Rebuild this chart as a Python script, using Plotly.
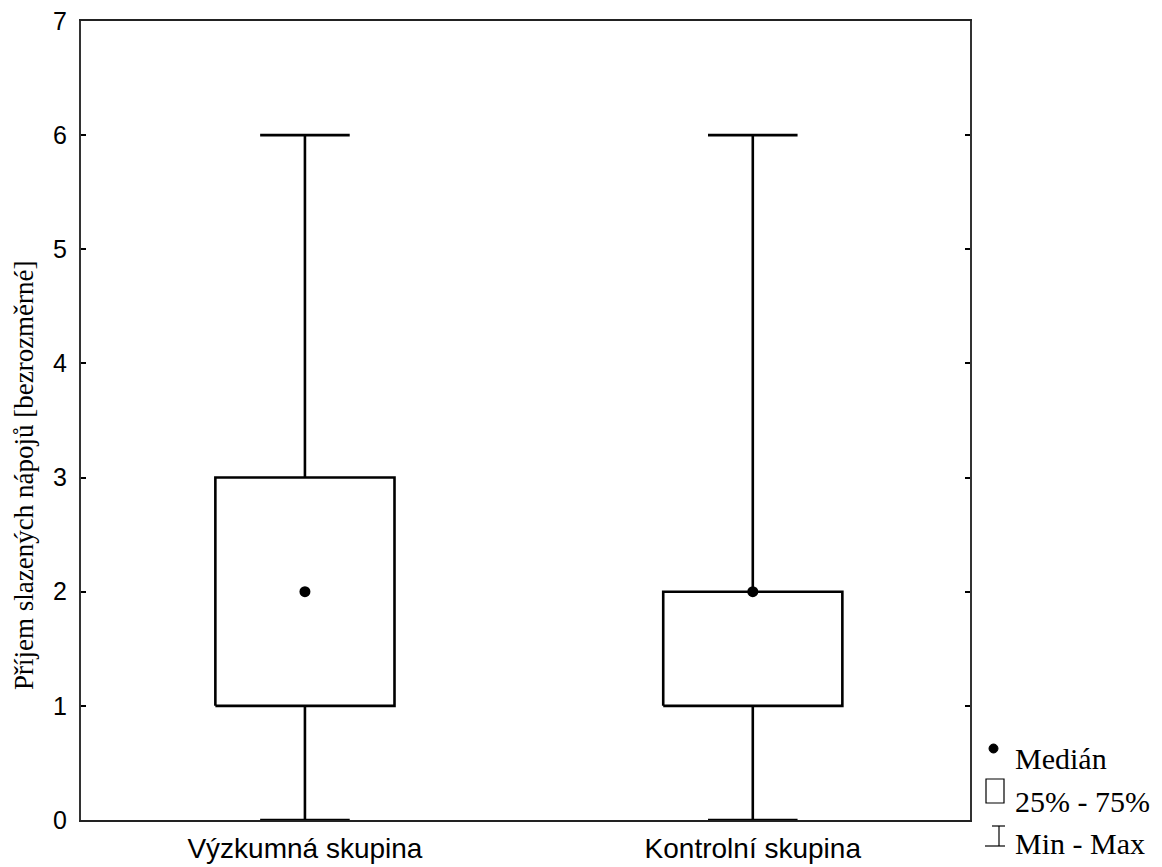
import plotly.graph_objects as go

categories = ["Výzkumná skupina", "Kontrolní skupina"]
minimum = [0, 0]
q1 = [1, 1]
median = [2, 2]
q3 = [3, 2]
maximum = [6, 6]
y_ticks = [0, 1, 2, 3, 4, 5, 6, 7]
legend_labels = ["Medián", "25% - 75%", "Min - Max"]
y_title = "Příjem slazených nápojů [bezrozměrné]"

BOX_HW = 0.2
CAP_HW = 0.1
LW = 2.6

fig = go.Figure()
for i, name in enumerate(categories):
    fig.add_trace(go.Scatter(
        x=[i - BOX_HW, i + BOX_HW, i + BOX_HW, i - BOX_HW, i - BOX_HW],
        y=[q1[i], q1[i], q3[i], q3[i], q1[i]],
        mode="lines", line=dict(color="black", width=LW), showlegend=False, hoverinfo="skip"))
    fig.add_trace(go.Scatter(
        x=[i, i, None, i, i, None, i - CAP_HW, i + CAP_HW, None, i - CAP_HW, i + CAP_HW],
        y=[minimum[i], q1[i], None, q3[i], maximum[i], None, minimum[i], minimum[i], None, maximum[i], maximum[i]],
        mode="lines", line=dict(color="black", width=LW), showlegend=False, hoverinfo="skip"))
    fig.add_trace(go.Scatter(
        x=[i], y=[median[i]], mode="markers",
        marker=dict(color="black", size=11), showlegend=False, name=name))

W, H = 1162, 867
L, R, T, B = 81, 192, 21, 47
pw, ph = W - L - R, H - T - B

def px(x):
    return (x - L) / pw

def py(y):
    return (H - B - y) / ph

shapes = [
    dict(type="circle", xref="paper", yref="paper", x0=px(989), x1=px(998), y0=py(753), y1=py(744),
         fillcolor="black", line=dict(color="black", width=1)),
    dict(type="rect", xref="paper", yref="paper", x0=px(986), x1=px(1004), y0=py(803), y1=py(779),
         line=dict(color="black", width=1.2), fillcolor="white"),
    dict(type="line", xref="paper", yref="paper", x0=px(992), x1=px(1005), y0=py(826), y1=py(826),
         line=dict(color="black", width=1.2)),
    dict(type="line", xref="paper", yref="paper", x0=px(999), x1=px(999), y0=py(826), y1=py(846),
         line=dict(color="black", width=1.2)),
    dict(type="line", xref="paper", yref="paper", x0=px(985), x1=px(1005), y0=py(846), y1=py(846),
         line=dict(color="black", width=1.2)),
]
ann_y = [758, 801, 843]
annotations = [
    dict(text=t, xref="paper", yref="paper", x=px(1013), y=py(yy), xanchor="left", yanchor="middle",
         showarrow=False, font=dict(family="Liberation Serif", size=30, color="black"))
    for t, yy in zip(legend_labels, ann_y)
]
annotations.append(dict(text=y_title, xref="paper", yref="paper", x=px(24), y=py(475),
                        xanchor="center", yanchor="middle", textangle=-90, showarrow=False,
                        font=dict(family="Liberation Serif", size=27, color="black")))

fig.update_layout(
    width=W, height=H,
    margin=dict(l=L, r=R, t=T, b=B),
    plot_bgcolor="white", paper_bgcolor="white",
    shapes=shapes, annotations=annotations,
    showlegend=False,
    xaxis=dict(range=[-0.5, 1.485], tickmode="array", tickvals=[0, 1], ticktext=categories,
               showgrid=False, zeroline=False, showline=True, linecolor="#222", linewidth=2,
               mirror=True, ticks="", automargin=False, ticklabelstandoff=2,
               tickfont=dict(family="Liberation Sans", size=28, color="black")),
    yaxis=dict(range=[0, 7], tickmode="array", tickvals=y_ticks, showgrid=False, zeroline=False,
               showline=True, linecolor="#333", linewidth=2, mirror="ticks", ticks="inside",
               ticklen=5, tickwidth=1.5, tickcolor="black", automargin=False,
               ticklabelstandoff=7,
               tickfont=dict(family="Liberation Sans", size=25, color="black")),
)

fig.write_html("out.html")
